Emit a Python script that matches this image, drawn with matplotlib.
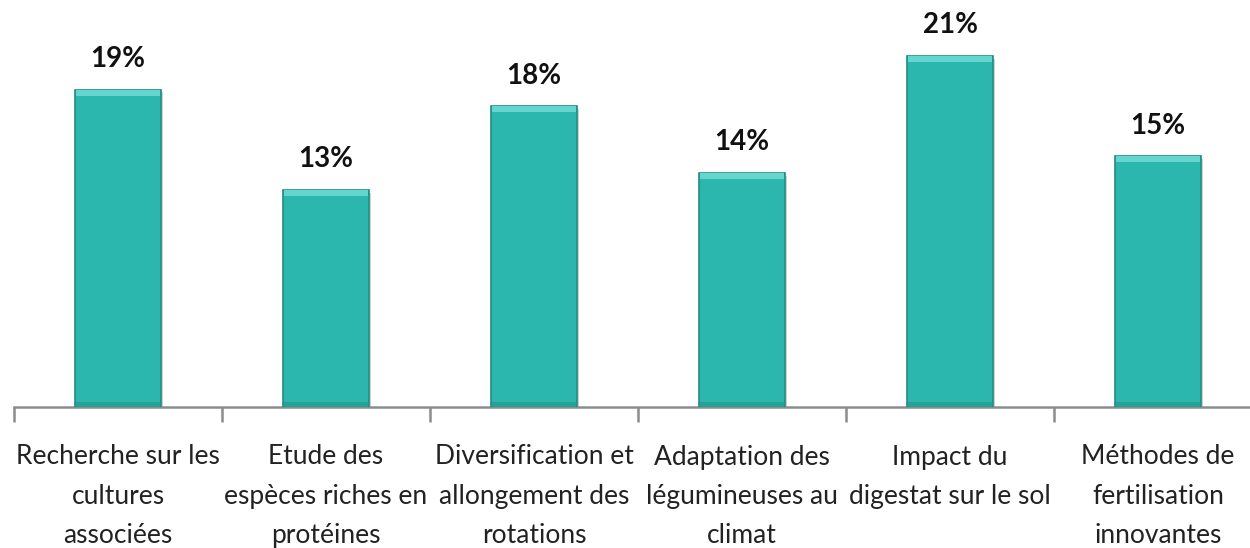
import matplotlib
matplotlib.use('Agg')
import matplotlib.pyplot as plt
import matplotlib.patheffects as pe

categories = [
    'Recherche sur les\ncultures\nassociées',
    'Etude des\nespèces riches en\nprotéines',
    'Diversification et\nallongement des\nrotations',
    'Adaptation des\nlégumineuses au\nclimat',
    'Impact du\ndigestat sur le sol',
    'Méthodes de\nfertilisation\ninnovantes',
]
values = [19, 13, 18, 14, 21, 15]
value_labels = ['19%', '13%', '18%', '14%', '21%', '15%']

plt.rcParams['font.family'] = ['Lato', 'DejaVu Sans']

fig = plt.figure(figsize=(12.5, 5.48), dpi=100)
# axis extends slightly past the right edge, like the original
ax = fig.add_axes([14 / 1250, 1 - 407 / 548, 1248 / 1250, 407 / 548])

x = list(range(len(values)))
bar_w = 0.41
shadow = [pe.SimplePatchShadow(offset=(2, -2), shadow_rgbFace='#999999', alpha=0.45), pe.Normal()]
bars = ax.bar(x, values, width=bar_w, color='#2bb7ae', edgecolor='#1f8c85',
              linewidth=1.2, zorder=3, path_effects=shadow)
# bevel highlight on top
ax.bar(x, [0.35] * len(values), bottom=[v - 0.35 for v in values], width=bar_w - 0.01,
       color='#63d6cf', linewidth=0, zorder=4)
# darker bottom bevel
ax.bar(x, [0.3] * len(values), bottom=[0] * len(values), width=bar_w - 0.01,
       color='#24a29a', linewidth=0, zorder=4)

for xi, v, lab in zip(x, values, value_labels):
    ax.text(xi, v + 1.85, lab, ha='center', va='center', fontsize=20,
            fontweight='bold', color='#111111')

ax.set_xlim(-0.5, len(values) - 0.5)
ax.set_ylim(0, 407 / 16.7)

for s in ['top', 'right', 'left']:
    ax.spines[s].set_visible(False)
ax.spines['bottom'].set_color('#8c8c8c')
ax.spines['bottom'].set_linewidth(1.8)
ax.set_yticks([])

ax.set_xticks([i - 0.5 for i in range(len(values) + 1)])
ax.set_xticklabels([])
ax.tick_params(axis='x', length=11, width=1.8, color='#8c8c8c')
ax.set_xticks(x, minor=True)
ax.set_xticklabels(categories, minor=True, fontsize=19, color='#222222', linespacing=1.72)
ax.tick_params(axis='x', which='minor', length=0, pad=27)

plt.savefig('out.png', dpi=100)
